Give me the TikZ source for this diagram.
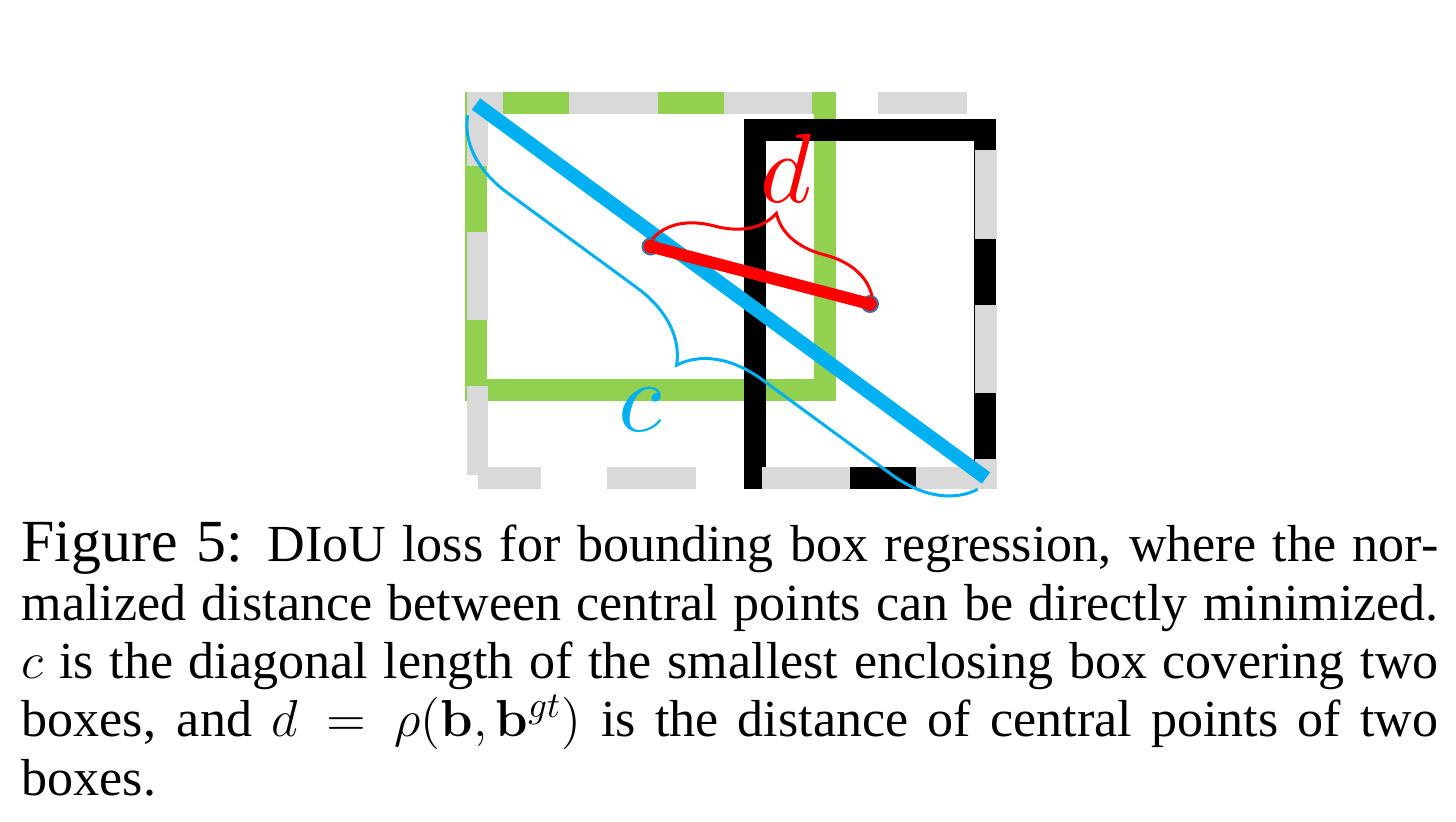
\RequirePackage{fix-cm}
\documentclass[tikz,border=0pt]{standalone}
\usepackage[no-math]{fontspec}
\setmainfont{Liberation Serif}
\usepackage{amsmath,amssymb}
\usepackage{tikz}
\usetikzlibrary{
	calc,
	decorations,
	decorations.pathreplacing}

\definecolor{ppgreen}{HTML}{92D050}
\definecolor{ppgray}{HTML}{D9D9D9}
\definecolor{ppblue}{HTML}{00B0F0}
\definecolor{ppred}{HTML}{FF0000}
\definecolor{ppedge}{HTML}{41719C}

\begin{document}
\begin{tikzpicture}[x=0.01cm,y=-0.01cm,
    boxline/.style={line width=0.217cm},
    curly/.style={decorate,line width=0.03cm}]
      \useasboundingbox (0,0) rectangle (1456,822);

      % boxes
      \draw [boxline,ppgreen] (476,103) rectangle (825,390);
      \draw [boxline,black] (755,130) rectangle (985,478);
      \draw [boxline,ppgray,dash pattern=on 0.885cm off 0.66cm,dash phase=0.25cm]
        (477.5,478) -- (986,478) -- (986,103) -- (477.5,103) -- (477.5,478);

      \coordinate (E1) at (476,104);
      \coordinate (E2) at (986,478);
      \coordinate (G0) at (650.5,246.5);
      \coordinate (B0) at (870,304);

      % diagonal c
      \draw [ppblue,line width=0.14cm] (E1) -- (E2);
      \draw [curly,ppblue,decoration={brace,mirror,amplitude=0.78cm,raise=0.14cm}] (E1) -- (E2);
      \node (LC) [anchor=base,inner sep=0,text=ppblue,scale=2.85] at (640,432) {$c$};

      % distance d
      \filldraw [ppred,draw=ppedge,line width=0.02cm] (G0) circle (0.08cm);
      \filldraw [ppred,draw=ppedge,line width=0.02cm] (B0) circle (0.08cm);
      \draw [ppred,line width=0.12cm] (G0) -- (B0);
      \draw [curly,ppred,decoration={brace,amplitude=0.56cm,raise=0.08cm}] (G0) -- (B0);
      \node (LD) [anchor=base,inner sep=0,text=ppred,scale=2.8] at (786,203) {$d$};

      % caption
      \node (Cap) [anchor=base west,inner sep=0,text width=14.16cm,align=justify,
          font=\fontsize{14.8}{16.57}\selectfont] at (21,562)
        {{\fontsize{17}{16.57}\selectfont Figure 5:} DIoU loss for bounding box regression, where the nor-\linebreak
        malized distance between central points can be directly minimized.\linebreak
        $c$ is the diagonal length of the smallest enclosing box covering two\linebreak
        boxes, and $d = \rho(\mathbf{b}, \mathbf{b}^{gt})$ is the distance of central points of two\linebreak
        boxes.};
  \end{tikzpicture}
\end{document}
